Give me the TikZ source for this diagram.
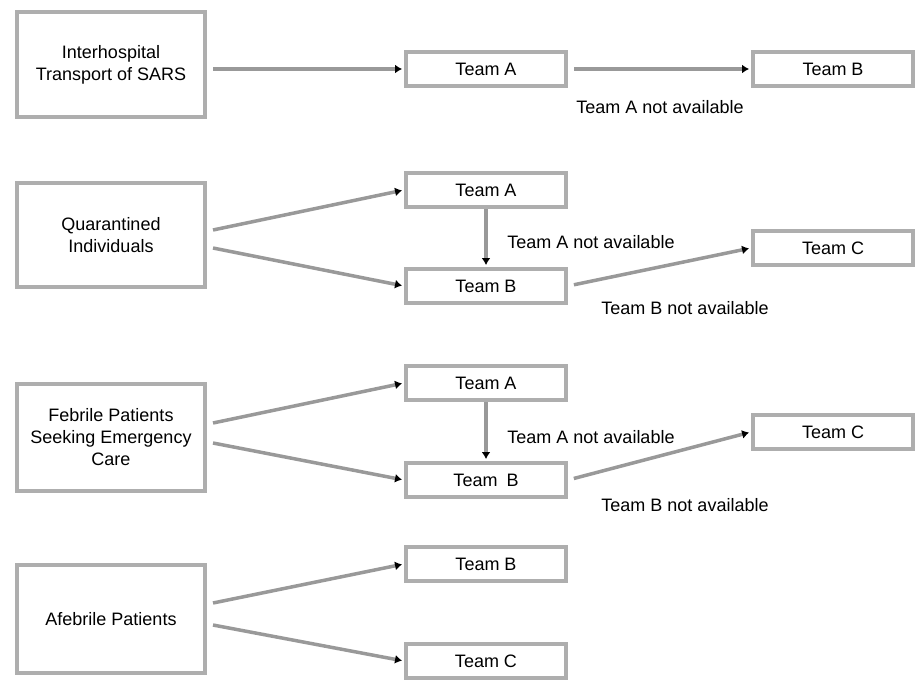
\documentclass[tikz,border=0pt]{standalone}
\usepackage{fontspec}
\setmainfont{Liberation Sans}
\usetikzlibrary{arrows.meta}
\definecolor{boxgray}{HTML}{AEAEAE}
\definecolor{linegray}{HTML}{999999}
\tikzset{
  srcbox/.style={draw=boxgray, line width=4pt, fill=white, minimum width=188pt, align=center, inner sep=0pt,
    font=\fontsize{18}{22}\selectfont},
  teambox/.style={draw=boxgray, line width=4pt, fill=white, minimum width=160pt, minimum height=34pt, inner sep=0pt,
    font=\fontsize{18}{22}\selectfont},
  lbl/.style={font=\fontsize{18}{22}\selectfont, inner sep=0pt},
  arr/.style={draw=linegray, line width=3.5pt, -{Latex[length=7pt,width=9pt,black]}, shorten >=2pt},
}
\begin{document}
\begin{tikzpicture}[x=1pt,y=-1pt]
\useasboundingbox (0,0) rectangle (917,680);
% row 1
\node[srcbox, minimum height=105pt] (L1) at (111,64.5) {Interhospital\\Transport of SARS};
\node[teambox] (A1) at (486,69) {Team A};
\node[teambox] (B1) at (833,69) {Team B};
\node[lbl] (t1) at (660,107) {Team A not available};
\draw[arr] ([xshift=6pt,yshift=-4.5pt]L1.east) -- (A1.west);
\draw[arr, shorten <=6pt] (A1.east) -- (B1.west);
% row 2
\node[srcbox, minimum height=104pt] (L2) at (111,235) {Quarantined\\Individuals};
\node[teambox] (A2) at (486,190) {Team A};
\node[teambox] (B2) at (486,286) {Team B};
\node[teambox] (C2) at (833,248) {Team C};
\node[lbl] (t2a) at (591,242) {Team A not available};
\node[lbl] (t2b) at (685,308) {Team B not available};
\draw[arr] ([xshift=6pt,yshift=5pt]L2.east) -- (A2.west);
\draw[arr] ([xshift=6pt,yshift=-13pt]L2.east) -- (B2.west);
\draw[arr] (A2.south) -- (B2.north);
\draw[arr, shorten <=6pt] (B2.east) -- (C2.west);
% row 3
\node[srcbox, minimum height=107pt] (L3) at (111,437.5) {Febrile Patients\\Seeking Emergency\\Care};
\node[teambox] (A3) at (486,383) {Team A};
\node[teambox] (B3) at (486,480) {Team\enspace B};
\node[teambox] (C3) at (833,432) {Team C};
\node[lbl] (t3a) at (591,437) {Team A not available};
\node[lbl] (t3b) at (685,505) {Team B not available};
\draw[arr] ([xshift=6pt,yshift=14.5pt]L3.east) -- (A3.west);
\draw[arr] ([xshift=6pt,yshift=-5.5pt]L3.east) -- (B3.west);
\draw[arr] (A3.south) -- (B3.north);
\draw[arr, shorten <=6pt] (B3.east) -- (C3.west);
% row 4
\node[srcbox, minimum height=108pt] (L4) at (111,619) {Afebrile Patients};
\node[teambox] (B4) at (486,564) {Team B};
\node[teambox] (C4) at (486,661) {Team C};
\draw[arr] ([xshift=6pt,yshift=16pt]L4.east) -- (B4.west);
\draw[arr] ([xshift=6pt,yshift=-6pt]L4.east) -- (C4.west);
\end{tikzpicture}
\end{document}
